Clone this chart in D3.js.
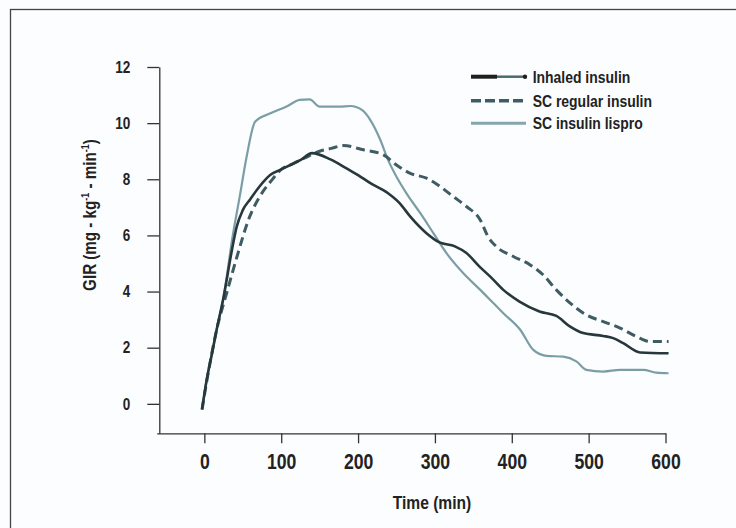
<!DOCTYPE html>
<html>
<head>
<meta charset="utf-8">
<script src="https://cdn.jsdelivr.net/npm/d3@7"></script>
<style>
  body { margin: 0; background: #fcfdfe; }
  svg { display: block; }
  text { font-family: "Liberation Sans", Arial, sans-serif; font-weight: bold; fill: #222; }
</style>
</head>
<body>
<div id="chart"></div>
<script>
// GIR curves (time in min, GIR in mg/kg/min)
const inhaledTime = [-3, 3, 10, 16, 25, 36, 42, 50, 60, 72, 86, 100, 112, 126, 140, 164, 185, 200, 216, 239, 254, 268, 289, 306, 326, 341, 358, 372, 389, 410, 436, 458, 476, 493, 519, 532, 545, 567, 604];
const inhaledGIR = [-0.2, 0.85, 1.8, 2.64, 3.8, 5.5, 6.3, 6.9, 7.3, 7.75, 8.16, 8.35, 8.51, 8.7, 8.93, 8.71, 8.39, 8.15, 7.86, 7.5, 7.15, 6.67, 6.08, 5.75, 5.61, 5.37, 4.89, 4.53, 4.06, 3.64, 3.29, 3.13, 2.75, 2.52, 2.42, 2.34, 2.16, 1.83, 1.8];

const regularTime = [-3, 7, 16, 29, 42, 59, 72, 88, 100, 115, 130, 150, 165, 181, 207, 233, 250, 268, 289, 307, 324, 341, 359, 369, 380, 402, 424, 441, 458, 476, 497, 519, 541, 562, 580, 604];
const regularGIR = [-0.2, 1.4, 2.64, 3.94, 5.2, 6.67, 7.38, 7.98, 8.35, 8.55, 8.75, 9.0, 9.1, 9.2, 9.05, 8.87, 8.51, 8.21, 8.04, 7.74, 7.38, 7.03, 6.55, 5.96, 5.6, 5.25, 4.95, 4.59, 4.06, 3.59, 3.17, 2.93, 2.7, 2.4, 2.22, 2.22];

const lisproTime = [-3, 3, 10, 16, 25, 37, 46, 55, 66, 86, 107, 124, 137, 150, 176, 190, 205, 216, 229, 239, 250, 263, 281, 298, 315, 337, 359, 372, 389, 411, 428, 445, 467, 484, 497, 519, 541, 571, 588, 604];
const lisproGIR = [-0.2, 0.85, 1.8, 2.64, 3.8, 6.0, 7.38, 8.8, 10.05, 10.35, 10.59, 10.83, 10.85, 10.59, 10.59, 10.61, 10.47, 10.11, 9.4, 8.69, 8.09, 7.5, 6.79, 6.08, 5.37, 4.65, 4.06, 3.7, 3.23, 2.64, 1.92, 1.71, 1.68, 1.51, 1.21, 1.15, 1.21, 1.21, 1.11, 1.09];

const xTicks = [0, 100, 200, 300, 400, 500, 600];
const yTicks = [0, 2, 4, 6, 8, 10, 12];
const seriesNames = ['Inhaled insulin', 'SC regular insulin', 'SC insulin lispro'];

const width = 736;
const height = 528;

const svg = d3.select('#chart')
  .append('svg')
  .attr('width', width)
  .attr('height', height);

// frame
svg.append('rect')
  .attr('x', 10.5)
  .attr('y', 9.5)
  .attr('width', 760)
  .attr('height', 560)
  .attr('fill', '#fcfdfe')
  .attr('stroke', '#444')
  .attr('stroke-width', 1.3);

const x = d3.scaleLinear().domain([-62, 600]).range([156.7, 665.5]);
const y = d3.scaleLinear().domain([-1.05, 12]).range([433.3, 67]);

// axes
const xAxis = svg.append('g')
  .attr('transform', 'translate(0,433.3)')
  .call(d3.axisBottom(x).tickValues(xTicks).tickSize(10).tickSizeOuter(0).tickPadding(10));
xAxis.selectAll('text').style('font-size', '21.5px');

const yAxis = svg.append('g')
  .attr('transform', 'translate(159.3,0)')
  .call(d3.axisLeft(y).tickValues(yTicks).tickSize(12).tickSizeOuter(0).tickPadding(17));
yAxis.selectAll('text').style('font-size', '16.5px');

svg.selectAll('.domain, .tick line').attr('stroke', '#333').attr('stroke-width', 1.3);

// axis titles
svg.append('text')
  .attr('x', 432)
  .attr('y', 509)
  .attr('text-anchor', 'middle')
  .style('font-size', '19px')
  .text('Time (min)');

const yTitle = svg.append('text')
  .attr('transform', 'translate(96,215) rotate(-90)')
  .attr('text-anchor', 'middle')
  .style('font-size', '18.5px');
yTitle.append('tspan').text('GIR (mg - kg');
yTitle.append('tspan').attr('dy', -7).style('font-size', '11px').text('-1');
yTitle.append('tspan').attr('dy', 7).text(' - min');
yTitle.append('tspan').attr('dy', -7).style('font-size', '11px').text('-1');
yTitle.append('tspan').attr('dy', 7).text(')');

// lines
const line = d3.line()
  .x((d) => x(d[0]))
  .y((d) => y(d[1]))
  .curve(d3.curveMonotoneX);

const zip = (ts, vs) => ts.map((t, i) => [t, vs[i]]);

svg.append('path')
  .datum(zip(lisproTime, lisproGIR))
  .attr('d', line)
  .attr('fill', 'none')
  .attr('stroke', '#7b9ea6')
  .attr('stroke-width', 2.2);

svg.append('path')
  .datum(zip(regularTime, regularGIR))
  .attr('d', line)
  .attr('fill', 'none')
  .attr('stroke', '#3f5c63')
  .attr('stroke-width', 3)
  .attr('stroke-dasharray', '9,5');

svg.append('path')
  .datum(zip(inhaledTime, inhaledGIR))
  .attr('d', line)
  .attr('fill', 'none')
  .attr('stroke', '#27373b')
  .attr('stroke-width', 2.6);

// legend
const legend = svg.append('g');
const legendY = [76.7, 100.7, 123.3];

legend.append('line')
  .attr('x1', 471).attr('x2', 497).attr('y1', legendY[0]).attr('y2', legendY[0])
  .attr('stroke', '#1f1f1f').attr('stroke-width', 4);
legend.append('line')
  .attr('x1', 497).attr('x2', 525).attr('y1', legendY[0]).attr('y2', legendY[0])
  .attr('stroke', '#4a6a71').attr('stroke-width', 2.5);
legend.append('circle')
  .attr('cx', 525).attr('cy', legendY[0]).attr('r', 2.2).attr('fill', '#1f1f1f');

legend.append('line')
  .attr('x1', 471).attr('x2', 526).attr('y1', legendY[1]).attr('y2', legendY[1])
  .attr('stroke', '#3f5c63').attr('stroke-width', 3.5).attr('stroke-dasharray', '10,4');

legend.append('line')
  .attr('x1', 471).attr('x2', 526).attr('y1', legendY[2]).attr('y2', legendY[2])
  .attr('stroke', '#86a6ad').attr('stroke-width', 3);

legend.selectAll('.legend-label')
  .data(seriesNames)
  .enter()
  .append('text')
  .attr('class', 'legend-label')
  .attr('x', 532.7)
  .attr('y', (d, i) => legendY[i] + 6)
  .style('font-size', '17px')
  .text((d) => d);

// squeeze every label to a condensed width, like the narrow face in the original
svg.selectAll('text').each(function () {
  const w = this.getComputedTextLength();
  d3.select(this)
    .attr('textLength', (w * 0.82).toFixed(1))
    .attr('lengthAdjust', 'spacingAndGlyphs');
});
</script>
</body>
</html>
